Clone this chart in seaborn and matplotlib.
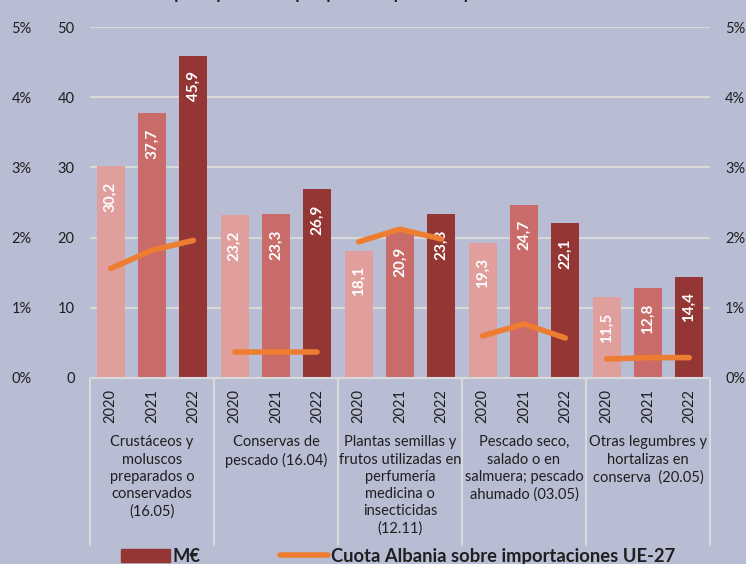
import pandas as pd
import matplotlib.pyplot as plt
import matplotlib.patches as mpatches
import matplotlib.lines as mlines
import seaborn as sns
from matplotlib.ticker import FuncFormatter

# Datos
grupos = [
    "Crustáceos y\nmoluscos\npreparados o\nconservados\n(16.05)",
    "Conservas de\npescado (16.04)",
    "Plantas semillas y\nfrutos utilizadas en\nperfumería\nmedicina o\ninsecticidas\n(12.11)",
    "Pescado seco,\nsalado o en\nsalmuera; pescado\nahumado (03.05)",
    "Otras legumbres y\nhortalizas en\nconserva  (20.05)",
]
anios = ["2020", "2021", "2022"]
millones = [
    [30.2, 37.7, 45.9],
    [23.2, 23.3, 26.9],
    [18.1, 20.9, 23.3],
    [19.3, 24.7, 22.1],
    [11.5, 12.8, 14.4],
]
cuota = [
    [1.56, 1.82, 1.96],
    [0.37, 0.37, 0.37],
    [1.94, 2.12, 1.98],
    [0.60, 0.77, 0.57],
    [0.27, 0.29, 0.29],
]

filas = []
for g in range(len(grupos)):
    for j, a in enumerate(anios):
        filas.append({"g": g, "anio": a, "valor": millones[g][j],
                      "cuota": cuota[g][j], "pos": g + (j - 1) / 3})
df = pd.DataFrame(filas)

fondo = "#B8BDD3"
colores = {"2020": "#E09E9D", "2021": "#C96B69", "2022": "#943634"}
naranja = "#ED7D31"
gris = "#D9D9D9"
texto = "#1F1F1F"

sns.set_style("white")
plt.rcParams["font.family"] = ["Lato", "DejaVu Sans"]
plt.rcParams["text.color"] = texto
plt.rcParams["xtick.color"] = texto
plt.rcParams["ytick.color"] = texto

fig = plt.figure(figsize=(7.46, 5.64), dpi=100, facecolor=fondo)
ax = fig.add_axes([0.1206, 0.3298, 0.8311, 0.6223])
ax.set_facecolor(fondo)

sns.barplot(data=df, x="g", y="valor", hue="anio", palette=colores, width=1.0,
            gap=0.32, saturation=1, legend=False, linewidth=0, ax=ax)

# Etiquetas dentro de las barras
for cont, a in zip(ax.containers, anios):
    vals = df[df["anio"] == a]["valor"].tolist()
    for bar, v in zip(cont, vals):
        ax.annotate(f"{v:.1f}".replace(".", ","),
                    (bar.get_x() + bar.get_width() / 2, bar.get_height()),
                    xytext=(0, -11), textcoords="offset points", rotation=90,
                    ha="center", va="top", color="white", fontweight="bold",
                    fontsize=11)

ax.set_ylim(0, 50)
ax.set_xlim(-0.5, len(grupos) - 0.5)
ax.set_yticks(range(0, 51, 10))
ax.set_xticks(df["pos"])
ax.set_xticklabels(df["anio"], rotation=90, fontsize=10.5)
ax.tick_params(axis="x", length=0, pad=8)
ax.tick_params(axis="y", length=0, pad=11, labelsize=10.5)
ax.set_xlabel("")
ax.set_ylabel("")
ax.yaxis.grid(True, color=gris, lw=1.5)
ax.set_axisbelow(True)
for s in ["top", "right", "left"]:
    ax.spines[s].set_visible(False)
ax.spines["bottom"].set_color(gris)
ax.spines["bottom"].set_linewidth(1.5)

# Separadores y nombres de grupo
tr = ax.get_xaxis_transform()
for g in range(len(grupos) + 1):
    ax.plot([g - 0.5, g - 0.5], [0, -0.476], transform=tr, color=gris,
            lw=1.5, clip_on=False)
for g, nombre in enumerate(grupos):
    ax.text(g, -0.163, nombre, transform=tr, ha="center", va="top",
            fontsize=10.5, linespacing=1.3)

# Cuota (%) eje derecho
ax2 = ax.twinx()
sns.lineplot(data=df, x="pos", y="cuota", units="g", estimator=None,
             color=naranja, lw=4, solid_capstyle="round", legend=False, ax=ax2)
fmt = FuncFormatter(lambda v, _: f"{v:.0f}%")
ax2.set_ylim(0, 5)
ax2.set_yticks(range(0, 6))
ax2.yaxis.set_major_formatter(fmt)
ax2.tick_params(axis="y", length=0, pad=11, labelsize=10.5)
ax2.set_ylabel("")
ax2.set_xlabel("")
for s in ax2.spines.values():
    s.set_visible(False)

# Cuota (%) repetida a la izquierda
ax3 = ax.twinx()
ax3.set_ylim(0, 5)
ax3.set_yticks(range(0, 6))
ax3.yaxis.set_major_formatter(fmt)
ax3.yaxis.tick_left()
ax3.tick_params(axis="y", length=0, pad=42, labelsize=10.5)
for s in ax3.spines.values():
    s.set_visible(False)
ax.set_xlim(-0.5, len(grupos) - 0.5)

# Título (cortado en el original)
fig.text(0.075, 1 + 0.5 / 564, "Gráfico 6. Principales productos pesqueros importados por la UE desde Albania",
         ha="left", va="baseline", fontsize=12, fontweight="bold")

# Leyenda
h1 = mpatches.Patch(color=colores["2022"])
h2 = mlines.Line2D([], [], color=naranja, lw=4)
fig.legend([h1, h2], ["M€", "Cuota Albania sobre importaciones UE-27"], ncol=2,
           loc="center", bbox_to_anchor=(0.534, 0.014), frameon=False,
           prop={"weight": "bold", "size": 13.2}, handlelength=2.65,
           handletextpad=0.17, columnspacing=4.3)

fig.savefig("out.png", dpi=100, facecolor=fondo)
